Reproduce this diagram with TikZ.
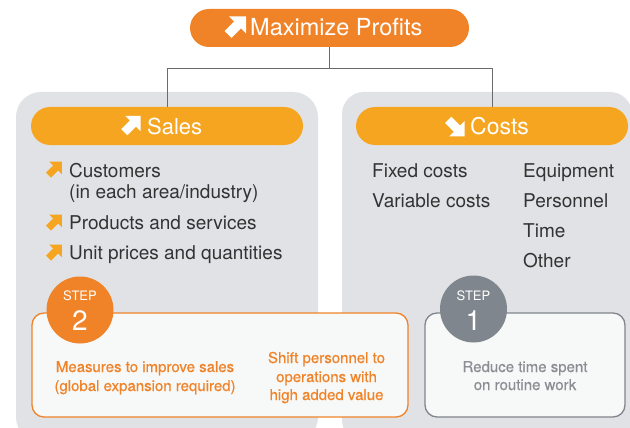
\documentclass[tikz,border=0pt]{standalone}
\usepackage{fontspec}
\setmainfont{TeX Gyre Heros}
\newfontfamily\medfont[FakeBold=0.5]{TeX Gyre Heros}
\usetikzlibrary{shapes.misc}
\definecolor{topor}{HTML}{F08328}
\definecolor{pillor}{HTML}{F6A521}
\definecolor{panelgray}{HTML}{E1E2E5}
\definecolor{boxfill}{HTML}{F7F8F8}
\definecolor{stepgray}{HTML}{80868D}
\definecolor{txtgray}{HTML}{333333}
\definecolor{softgray}{HTML}{8A8E93}
\definecolor{linegray}{HTML}{6B6B6B}
\tikzset{
  arrowicon/.pic={\fill (-0.56,-0.2) -- (0,-0.2) -- (0,-0.5) -- (0.5,0) -- (0,0.5) -- (0,0.2) -- (-0.56,0.2) -- cycle;},
  pill/.style={rounded rectangle, inner sep=0pt, minimum height=38pt},
  pilltext/.style={anchor=base west, inner sep=0pt, text=white, font=\fontsize{22}{24}\selectfont},
  itemtext/.style={anchor=base west, inner sep=0pt, text=txtgray, font=\fontsize{19}{22}\selectfont},
  steptext/.style={anchor=base, inner sep=0pt, font=\medfont\fontsize{15}{18}\selectfont},
  stepbox/.style={rounded corners=12pt, fill=boxfill, line width=1.3pt, minimum width=#1, minimum height=104pt, inner sep=0pt},
  stepcircle/.style={circle, minimum size=67pt, inner sep=0pt},
  steplabel/.style={anchor=base, inner sep=0pt, text=white, font=\fontsize{13}{13}\selectfont},
  stepnum/.style={anchor=base, inner sep=0pt, text=white, font=\fontsize{28}{28}\selectfont},
}
\begin{document}
\begin{tikzpicture}[x=1pt,y=-1pt]
\useasboundingbox (0,0) rectangle (630,428);
\clip (0,0) rectangle (630,428);
\fill[white] (0,0) rectangle (630,428);
% panels
\fill[panelgray, rounded corners=25pt] (16,92) rectangle (318,442);
\fill[panelgray, rounded corners=22pt] (342,92) rectangle (632,442);
% pills
\node[pill, fill=topor, minimum width=279pt] (top) at (329.5,28) {};
\node[pill, fill=pillor, minimum width=272pt] (sales) at (167,126) {};
\node[pill, fill=pillor, minimum width=272pt] (costs) at (492,126) {};
% connectors
\coordinate (j) at (top.south |- 0,69);
\draw[linegray, line width=1pt] (top.south) -- (j);
\draw[linegray, line width=1pt] (j) -| (sales.north);
\draw[linegray, line width=1pt] (j) -| (costs.north);
% pill texts
\pic[white, scale=24, rotate=45] at (237.6,24.9) {arrowicon};
\node[pilltext, font=\fontsize{23.5}{24}\selectfont] (toptxt) at (250,36) {Maximize Profits};
\pic[white, scale=21.6, rotate=45] at (132.9,123.6) {arrowicon};
\node[pilltext] (salestxt) at (147,135) {Sales};
\pic[white, scale=22, rotate=-45] at (456.9,128.6) {arrowicon};
\node[pilltext, font=\fontsize{23}{24}\selectfont] (coststxt) at (470,135) {Costs};
% sales items
\pic[pillor, scale=18, rotate=45] at (55.6,168.0) {arrowicon};
\node[itemtext] (i1) at (69,177) {Customers};
\node[itemtext] (i1b) at (69,198) {(in each area/industry)};
\pic[pillor, scale=18, rotate=45] at (55.6,221.0) {arrowicon};
\node[itemtext] (i2) at (69,229) {Products and services};
\pic[pillor, scale=18, rotate=45] at (55.6,251.0) {arrowicon};
\node[itemtext] (i3) at (69,259) {Unit prices and quantities};
% costs items
\node[itemtext] (c1) at (372,177) {Fixed costs};
\node[itemtext] (c2) at (372,207) {Variable costs};
\node[itemtext] (c3) at (523,177) {Equipment};
\node[itemtext] (c4) at (523,207) {Personnel};
\node[itemtext] (c5) at (523,237) {Time};
\node[itemtext] (c6) at (523,267) {Other};
% step boxes
\node[stepbox=376pt, draw=topor] (box2) at (220,365) {};
\node[stepbox=200pt, draw=stepgray] (box1) at (525,365) {};
\node[stepcircle, fill=topor] (circ2) at (80,310) {};
\node[stepcircle, fill=stepgray] (circ1) at (473.5,309) {};
\node[steplabel] (s2a) at (80,300) {STEP};
\node[stepnum] (s2b) at (80,330) {2};
\node[steplabel] (s1a) at (473.5,300) {STEP};
\node[stepnum] (s1b) at (473.5,330) {1};
% step texts
\node[steptext, text=topor] (m1) at (145,372) {Measures to improve sales};
\node[steptext, text=topor] (m2) at (145,391) {(global expansion required)};
\node[steptext, text=topor] (h1) at (326.5,363) {Shift personnel to};
\node[steptext, text=topor] (h2) at (326.5,382) {operations with};
\node[steptext, text=topor] (h3) at (326.5,400) {high added value};
\node[steptext, text=softgray] (r1) at (525,372) {Reduce time spent};
\node[steptext, text=softgray] (r2) at (525,390) {on routine work};
\end{tikzpicture}
\end{document}
